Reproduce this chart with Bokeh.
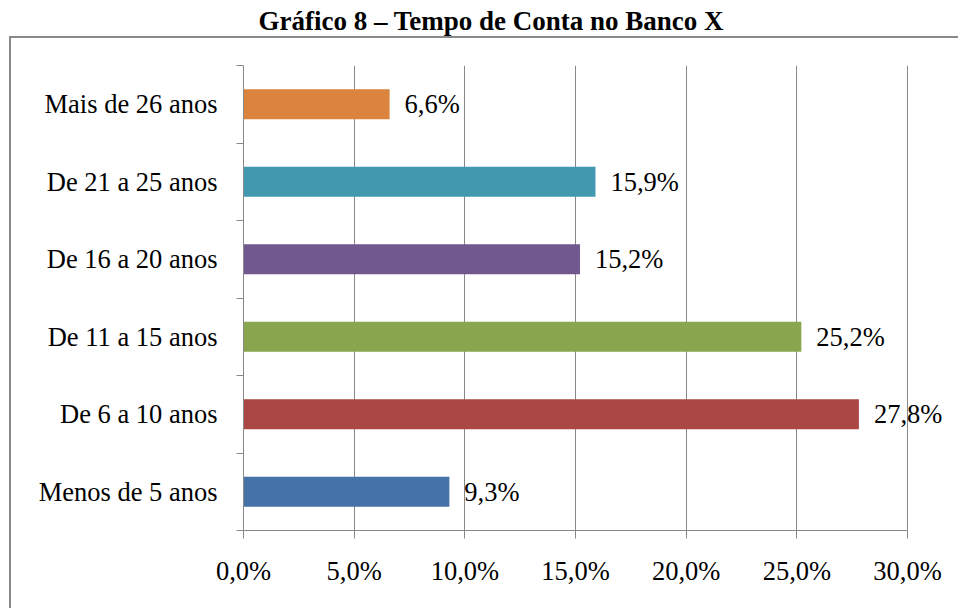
from bokeh.plotting import figure
from bokeh.models import ColumnDataSource, FixedTicker, Title, LabelSet
from bokeh.embed import file_html
from bokeh.resources import INLINE

categories = ["Menos de 5 anos", "De 6 a 10 anos", "De 11 a 15 anos",
              "De 16 a 20 anos", "De 21 a 25 anos", "Mais de 26 anos"]
values = [9.3, 27.8, 25.2, 15.2, 15.9, 6.6]
colors = ["#4572A7", "#AA4643", "#89A54E", "#71588F", "#4198AF", "#DB843D"]
x_ticks = [0, 5, 10, 15, 20, 25, 30]
x_tick_labels = ["0,0%", "5,0%", "10,0%", "15,0%", "20,0%", "25,0%", "30,0%"]
title_text = "Gráfico 8 – Tempo de Conta no Banco X"

FONT = "Liberation Serif"
GRID = "#888888"
BOX = "#8a8a8a"

ypos = [i + 0.5 for i in range(len(categories))]
src = ColumnDataSource(dict(
    y=ypos, v=values, c=colors,
    lab=[("%.1f" % v).replace(".", ",") + "%" for v in values],
))

box_css = ("linear-gradient(%s,%s) 9px 36px / 2px 700px no-repeat, "
           "linear-gradient(%s,%s) 9px 36px / 1200px 2px no-repeat, #ffffff") % (BOX, BOX, BOX, BOX)

p = figure(width=958, height=608, output_backend="svg", toolbar_location=None,
           x_range=(0, 32.3), y_range=(0, len(categories)),
           min_border_left=243, min_border_right=0, min_border_top=65,
           min_border_bottom=78, styles={"background": box_css})
p.outline_line_color = None
p.background_fill_color = "white"
p.border_fill_color = None

p.hbar(y="y", right="v", left=0, height=0.39, fill_color="c", line_color=None, source=src)
p.add_layout(LabelSet(x="v", y="y", text="lab", source=src, x_offset=15,
                      text_baseline="middle", text_align="left",
                      text_font=FONT, text_font_size="26.5px", text_color="black"))

# x axis
xa = p.xaxis[0]
xa.ticker = FixedTicker(ticks=x_ticks)
xa.bounds = (x_ticks[0], x_ticks[-1])
xa.major_label_overrides = {t: l for t, l in zip(x_ticks, x_tick_labels)}
xa.major_tick_out = 8
xa.major_tick_in = 0
xa.minor_tick_out = 0
xa.minor_tick_in = 0
xa.axis_line_color = GRID
xa.major_tick_line_color = GRID
xa.major_label_text_font = FONT
xa.major_label_text_font_size = "26.5px"
xa.major_label_text_color = "black"
xa.major_label_standoff = 17

# y axis
ya = p.yaxis[0]
ya.ticker = FixedTicker(ticks=ypos, minor_ticks=list(range(len(categories) + 1)))
ya.major_label_overrides = {y: c for y, c in zip(ypos, categories)}
ya.major_tick_out = 0
ya.major_tick_in = 0
ya.minor_tick_out = 7
ya.minor_tick_in = 0
ya.minor_tick_line_color = GRID
ya.axis_line_color = GRID
ya.major_label_text_font = FONT
ya.major_label_text_font_size = "26.5px"
ya.major_label_text_color = "black"
ya.major_label_standoff = 19

p.xgrid.ticker = FixedTicker(ticks=x_ticks)
p.xgrid.grid_line_color = GRID
p.ygrid.grid_line_color = None

# spacer between frame and title (nearest the frame)
p.add_layout(Title(text=" ", text_font_size="23px", standoff=0), "above")
t = Title(text=title_text, align="left", offset=15, vertical_align="top", standoff=0,
          text_font=FONT, text_font_size="27px", text_font_style="bold",
          text_color="black")
p.add_layout(t, "above")

open("out.html", "w").write(file_html(p, INLINE))
